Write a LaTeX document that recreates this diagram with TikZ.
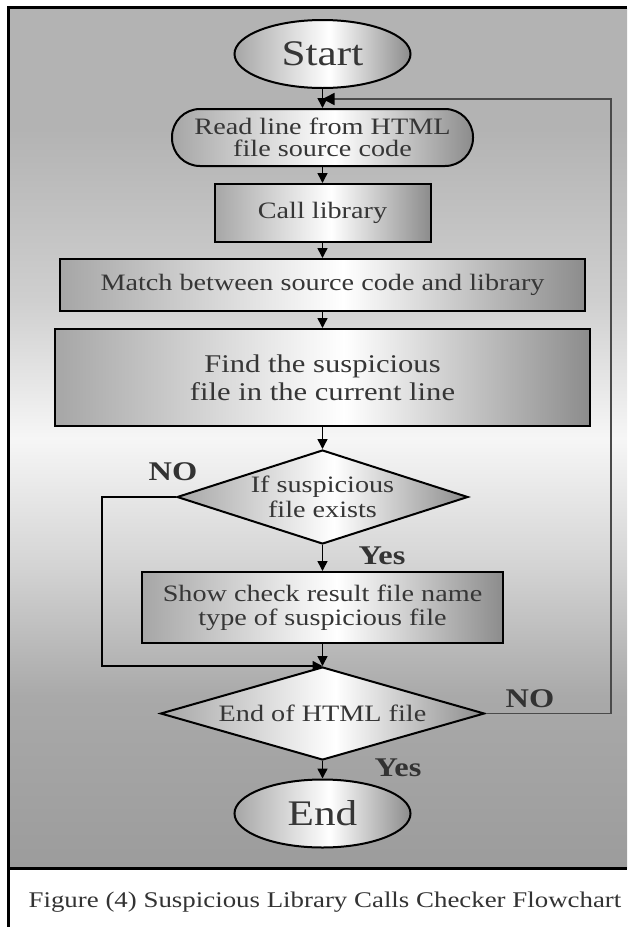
\documentclass[tikz,border=0pt]{standalone}
\usepackage{fontspec}
\setmainfont[FakeStretch=1.2]{Liberation Serif}
\usetikzlibrary{arrows.meta,shapes.geometric}

% greys for the node fills
\definecolor{shL}{HTML}{A6A6A6}
\definecolor{shR}{HTML}{8C8C8C}
% greys for the panel behind the chart (bottom to top)
\definecolor{pb}{HTML}{9C9C9C}
\definecolor{pa}{HTML}{A9A9A9}
\definecolor{pc}{HTML}{D6D6D6}
\definecolor{pd}{HTML}{F6F6F6}
\definecolor{pe}{HTML}{CFCFCF}
\definecolor{pt}{HTML}{B3B3B3}
\definecolor{txt}{HTML}{363636}
\definecolor{labtxt}{HTML}{333333}
\definecolor{loopline}{HTML}{4A4A4A}

\pgfdeclarehorizontalshading{nodeshade}{100bp}{color(0bp)=(shL); color(25bp)=(shL); color(52bp)=(white); color(75bp)=(shR); color(100bp)=(shR)}
\pgfdeclareverticalshading{panelshade}{100bp}{color(0bp)=(pb); color(25bp)=(pb); color(35bp)=(pa); color(43bp)=(pc); color(50bp)=(pd); color(58bp)=(pe); color(68bp)=(pt); color(75bp)=(pt); color(100bp)=(pt)}

\begin{document}
\begin{tikzpicture}[x=1pt,y=-1pt,
  nodebase/.style={draw=black, line width=2pt, shading=nodeshade, inner sep=0pt,
    align=center, text=txt, font=\fontsize{23.5}{24}\selectfont},
  terminal/.style={nodebase, ellipse, minimum width=176pt, minimum height=68pt,
    font=\fontsize{36}{36}\selectfont},
  process/.style={nodebase, rectangle},
  decision/.style={nodebase, diamond, aspect=3},
  dtext/.style={align=center, text=txt, inner sep=0pt, font=\fontsize{23.5}{25}\selectfont},
  lab/.style={text=labtxt, inner sep=0pt, font=\bfseries\fontsize{27}{27}\selectfont},
  flow/.style={draw=black, line width=1.5pt, -{Triangle[length=10pt,width=10pt]}},
  back/.style={draw=loopline, line width=1.5pt, -{Triangle[length=12pt,width=12pt,color=black]}}
]
\useasboundingbox (0,0) rectangle (627,927);

% page, shaded panel and frame
\fill[white] (0,0) rectangle (627,927);
\shade[shading=panelshade] (9,8) rectangle (627,868);
\draw[line width=3pt] (8,927) -- (8,7) -- (627,7);
\draw[line width=3pt] (8,868) -- (627,868);

% flowchart steps
\node[terminal] (start) at (322.5,54) {Start};
\node[process, rounded corners=28pt, minimum width=301pt, minimum height=57pt,
  font=\fontsize{23.5}{22.5}\selectfont] (read) at (322.5,137.5) {Read line from HTML\\file source code};
\node[process, minimum width=216pt, minimum height=58pt] (call) at (322.5,213) {Call library};
\node[process, minimum width=525pt, minimum height=52pt] (match) at (322.5,285) {Match between source code and library};
\node[process, minimum width=535pt, minimum height=97pt,
  font=\fontsize{25.5}{28}\selectfont] (find) at (322.5,377.5) {Find the suspicious\\file in the current line};
\node[decision, minimum width=291pt, minimum height=94pt] (dec1) at (322.5,497) {};
\node[dtext] (dec1txt) at (dec1) {If suspicious\\file exists};
\node[process, minimum width=361pt, minimum height=71pt] (show) at (322.5,607.5) {Show check result file name\\type of suspicious file};
\node[decision, minimum width=324pt, minimum height=93pt] (dec2) at (322.5,713.5) {};
\node[dtext] (dec2txt) at (dec2) {End of HTML file};
\node[terminal] (end) at (322.5,813.5) {End};

% branch labels
\node[lab] (no1) at (173,472) {NO};
\node[lab] (yes1) at (382,556) {Yes};
\node[lab] (no2) at (530,699) {NO};
\node[lab] (yes2) at (398,768) {Yes};

% connectors
\draw[flow] (start) -- (read);
\draw[flow] (read) -- (call);
\draw[flow] (call) -- (match);
\draw[flow] (match) -- (find);
\draw[flow] (find) -- (dec1);
\draw[flow] (dec1) -- (show);
\draw[flow] (show) -- (dec2);
\draw[flow] (dec2) -- (end);

\coordinate (nocorner) at (102,497);
\draw[flow] (dec1.west) -- (nocorner) |- (dec2.north);

\coordinate (loopcorner) at (611,99);
\coordinate (loopend) at (322.5,99);
\draw[back] (dec2.east) -| (loopcorner) -- (loopend);

% caption
\node[text=labtxt, font=\fontsize{22.4}{23}\selectfont] (caption) at (325,902)
  {Figure (4) Suspicious Library Calls Checker Flowchart};
\end{tikzpicture}
\end{document}
